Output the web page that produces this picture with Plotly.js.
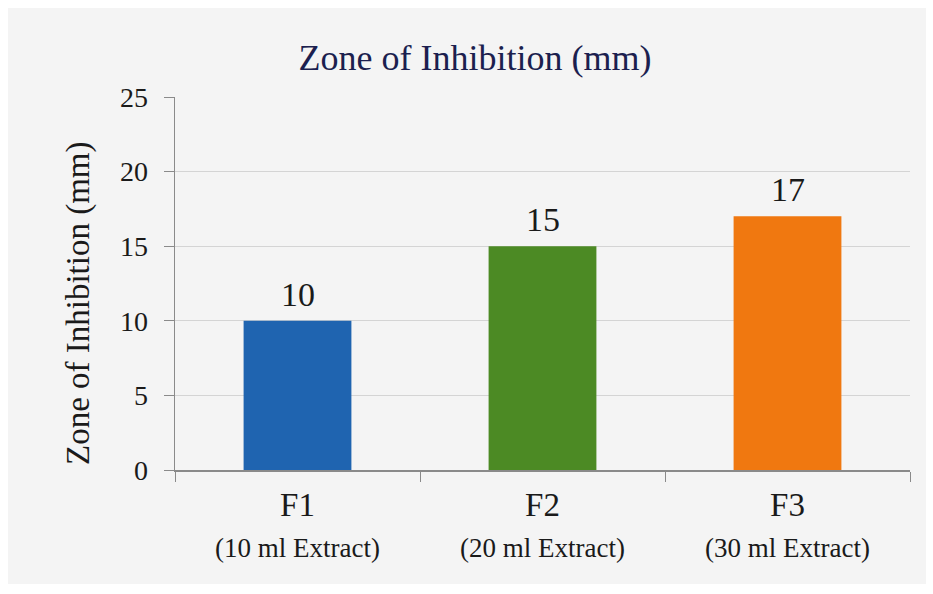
<!DOCTYPE html>
<html>
<head>
<meta charset="utf-8">
<script src="https://cdn.plot.ly/plotly-3.0.1.min.js"></script>
<style>
  html, body { margin: 0; padding: 0; background: #ffffff; }
  #chart { width: 933px; height: 594px; }
</style>
</head>
<body>
<div id="chart"></div>
<script>
const categories = ["F1", "F2", "F3"];
const subLabels = ["(10 ml Extract)", "(20 ml Extract)", "(30 ml Extract)"];
const values = [10, 15, 17];
const barColors = ["#1f64b0", "#4c8a24", "#f07810"];
const yTicks = [0, 5, 10, 15, 20, 25];
const yTitle = "Zone of Inhibition (mm)";
const chartTitle = "Zone of Inhibition (mm)";

const serif = "'Liberation Serif', 'Times New Roman', serif";

const trace = {
  type: "bar",
  x: categories,
  y: values,
  marker: { color: barColors },
  width: 0.44,
  hoverinfo: "skip"
};

const W = 735, H = 373;
const annotations = [];
categories.forEach((c, i) => {
  annotations.push({
    x: c, xref: "x",
    y: 0, yref: "paper",
    yanchor: "middle",
    yshift: -78,
    text: subLabels[i],
    showarrow: false,
    font: { family: serif, size: 27, color: "#1a1a1a" }
  });
  annotations.push({
    x: c, xref: "x",
    y: values[i], yref: "y",
    yanchor: "bottom",
    yshift: 6,
    text: String(values[i]),
    showarrow: false,
    font: { family: serif, size: 34, color: "#1a1a1a" }
  });
});
annotations.push({
  x: (78 - 175) / W, xref: "paper",
  y: (470 - 303) / H, yref: "paper",
  xanchor: "center", yanchor: "middle",
  textangle: -90,
  text: yTitle,
  showarrow: false,
  font: { family: serif, size: 33, color: "#1a1a1a" }
});

const layout = {
  width: 933, height: 594,
  margin: { l: 175, r: 23, t: 97, b: 124 },
  paper_bgcolor: "#ffffff",
  plot_bgcolor: "rgba(0,0,0,0)",
  showlegend: false,
  title: {
    text: chartTitle,
    font: { family: serif, size: 36, color: "#1c1f4f" },
    x: 475 / 933, xanchor: "center", xref: "container",
    y: 1 - 57 / 594, yanchor: "middle", yref: "container"
  },
  xaxis: {
    type: "category",
    tickvals: categories,
    ticktext: categories,
    tickfont: { family: serif, size: 33, color: "#1a1a1a" },
    showline: true, linecolor: "#8a8a8a", linewidth: 1.5,
    ticks: "outside", tickson: "boundaries", ticklen: 10, tickcolor: "#8a8a8a",
    ticklabelstandoff: 5,
    showgrid: false, zeroline: false,
    fixedrange: true
  },
  yaxis: {
    range: [0, 25],
    tickvals: yTicks,
    tickfont: { family: serif, size: 28, color: "#1a1a1a" },
    showline: true, linecolor: "#8a8a8a", linewidth: 1.5,
    ticks: "outside", ticklen: 10, tickcolor: "#8a8a8a",
    ticklabelstandoff: 10,
    showgrid: true, gridcolor: "#d4d4d4", gridwidth: 1,
    zeroline: false,
    fixedrange: true
  },
  annotations: annotations,
  shapes: [{
    type: "rect", xref: "paper", yref: "paper", layer: "below",
    x0: (8 - 175) / W, x1: (926 - 175) / W,
    y0: (470 - 584) / H, y1: (470 - 8) / H,
    fillcolor: "#f4f4f4", line: { width: 0 }
  }]
};

Plotly.newPlot("chart", [trace], layout, { displayModeBar: false, staticPlot: true });
</script>
</body>
</html>
